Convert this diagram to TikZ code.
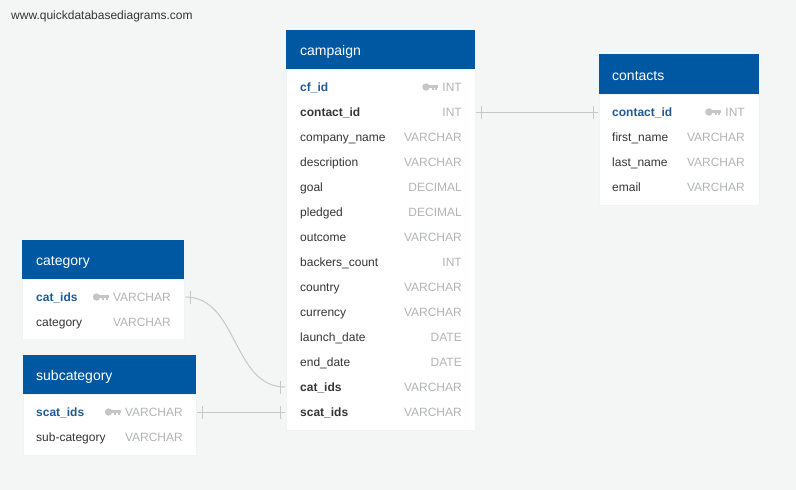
\documentclass[tikz,border=0pt]{standalone}
\usepackage{fontspec}
\setmainfont{Liberation Sans}
\usetikzlibrary{positioning}

\definecolor{hdrblue}{HTML}{0058A2}
\definecolor{keyblue}{HTML}{1D5B98}
\definecolor{fieldgray}{HTML}{353535}
\definecolor{typegray}{HTML}{B2B4B6}
\definecolor{keygray}{HTML}{C4C6C8}
\definecolor{bggray}{HTML}{F4F6F6}
\definecolor{linkgray}{HTML}{C6C8C8}

\tikzset{
  tblhead/.style={fill=hdrblue, inner sep=0, anchor=north west},
  tblbody/.style={fill=white, draw=black!5, inner sep=0, anchor=north west},
  title/.style={anchor=west, inner sep=0, text=white, text height=10pt, text depth=0pt,
    font=\fontsize{14}{16}\selectfont},
  field/.style={anchor=west, inner sep=0, yshift=-1pt, text=fieldgray, text height=8.6pt,
    text depth=0pt, font=\fontsize{12}{14}\selectfont},
  pkfield/.style={field, text=keyblue, font=\fontsize{12}{14}\selectfont\bfseries},
  fkfield/.style={field, font=\fontsize{12}{14}\selectfont\bfseries},
  dtype/.style={field, anchor=east, text=typegray},
  link/.style={draw=linkgray, line width=1pt},
  pkkey/.pic={
    \fill[keygray] (-12.3,0) circle (3.7);
    \fill[keygray] (-10,-2.2) rectangle (0,0.9);
    \fill[keygray] (-3.2,0.9) rectangle (-1.2,3.2);
    \fill[keygray] (-6.4,0.9) rectangle (-4.6,2.6);
  },
  onebar/.pic={\draw[link] (0,-6.5) -- (0,6.5);}
}

\begin{document}
\begin{tikzpicture}[x=1pt,y=-1pt]
\useasboundingbox[fill=bggray] (0,0) rectangle (796,490);

\node[anchor=west, inner sep=0, text=fieldgray, font=\fontsize{12}{14}\selectfont]
  (site) at (11,16) {www.quickdatabasediagrams.com};

% campaign
\node[tblbody, minimum width=189, minimum height=361] (camp-body) at (286,69) {};
\node[tblhead, minimum width=189, minimum height=39] (camp-head) at (286,30) {};
\node[title] (campaign) at (300,50) {campaign};
\node[pkfield] (camp-1) at (300,86) {cf\_id};
\node[dtype] (camp-1-t) at (462,86) {INT};
\pic at ([xshift=-4pt]camp-1-t.west) {pkkey};
\node[fkfield] (camp-2) at (300,111) {contact\_id};
\node[dtype] (camp-2-t) at (462,111) {INT};
\foreach \n/\t [count=\i from 3] in {company\_name/VARCHAR, description/VARCHAR,
    goal/DECIMAL, pledged/DECIMAL, outcome/VARCHAR, backers\_count/INT,
    country/VARCHAR, currency/VARCHAR, launch\_date/DATE, end\_date/DATE} {
  \node[field] (camp-\i) at (300,{61+25*\i}) {\n};
  \node[dtype] (camp-\i-t) at (462,{61+25*\i}) {\t};
}
\node[fkfield] (camp-13) at (300,386) {cat\_ids};
\node[dtype] (camp-13-t) at (462,386) {VARCHAR};
\node[fkfield] (camp-14) at (300,411) {scat\_ids};
\node[dtype] (camp-14-t) at (462,411) {VARCHAR};

% contacts
\node[tblbody, minimum width=160, minimum height=111] (con-body) at (599,94) {};
\node[tblhead, minimum width=160, minimum height=40] (con-head) at (599,54) {};
\node[title] (contacts) at (612,75) {contacts};
\node[pkfield] (con-1) at (612,111) {contact\_id};
\node[dtype] (con-1-t) at (745,111) {INT};
\pic at ([xshift=-4pt]con-1-t.west) {pkkey};
\foreach \n [count=\i from 2] in {first\_name, last\_name, email} {
  \node[field] (con-\i) at (612,{86+25*\i}) {\n};
  \node[dtype] (con-\i-t) at (745,{86+25*\i}) {VARCHAR};
}

% category
\node[tblbody, minimum width=162, minimum height=60] (cat-body) at (22,279) {};
\node[tblhead, minimum width=162, minimum height=39] (cat-head) at (22,240) {};
\node[title] (category) at (36,260) {category};
\node[pkfield] (cat-1) at (36,296) {cat\_ids};
\node[dtype] (cat-1-t) at (171,296) {VARCHAR};
\pic at ([xshift=-4pt]cat-1-t.west) {pkkey};
\node[field] (cat-2) at (36,321) {category};
\node[dtype] (cat-2-t) at (171,321) {VARCHAR};

% subcategory
\node[tblbody, minimum width=173, minimum height=61] (sub-body) at (23,394) {};
\node[tblhead, minimum width=173, minimum height=39] (sub-head) at (23,355) {};
\node[title] (subcategory) at (36,375) {subcategory};
\node[pkfield] (sub-1) at (36,411) {scat\_ids};
\node[dtype] (sub-1-t) at (183,411) {VARCHAR};
\pic at ([xshift=-4pt]sub-1-t.west) {pkkey};
\node[field] (sub-2) at (36,436) {sub-category};
\node[dtype] (sub-2-t) at (183,436) {VARCHAR};

% links
\coordinate (lk1a) at (camp-body.east |- camp-2.west);
\coordinate (lk1b) at (con-body.west |- con-1.west);
\coordinate (lk2a) at (cat-body.east |- cat-1.west);
\coordinate (lk2b) at (camp-body.west |- camp-13.west);
\coordinate (lk3a) at (sub-body.east |- sub-1.west);
\coordinate (lk3b) at (camp-body.west |- camp-14.west);

\draw[link] ([xshift=1pt]lk1a) -- ([xshift=-1pt]lk1b);
\pic at ([xshift=6pt]lk1a) {onebar};
\pic at ([xshift=-6pt]lk1b) {onebar};

\draw[link] ([xshift=1pt]lk2a) to[out=0, in=180] ([xshift=-1pt]lk2b);
\pic at ([xshift=6pt]lk2a) {onebar};
\pic at ([xshift=-6pt]lk2b) {onebar};

\draw[link] ([xshift=1pt]lk3a) -- ([xshift=-1pt]lk3b);
\pic at ([xshift=6pt]lk3a) {onebar};
\pic at ([xshift=-6pt]lk3b) {onebar};
\end{tikzpicture}
\end{document}
